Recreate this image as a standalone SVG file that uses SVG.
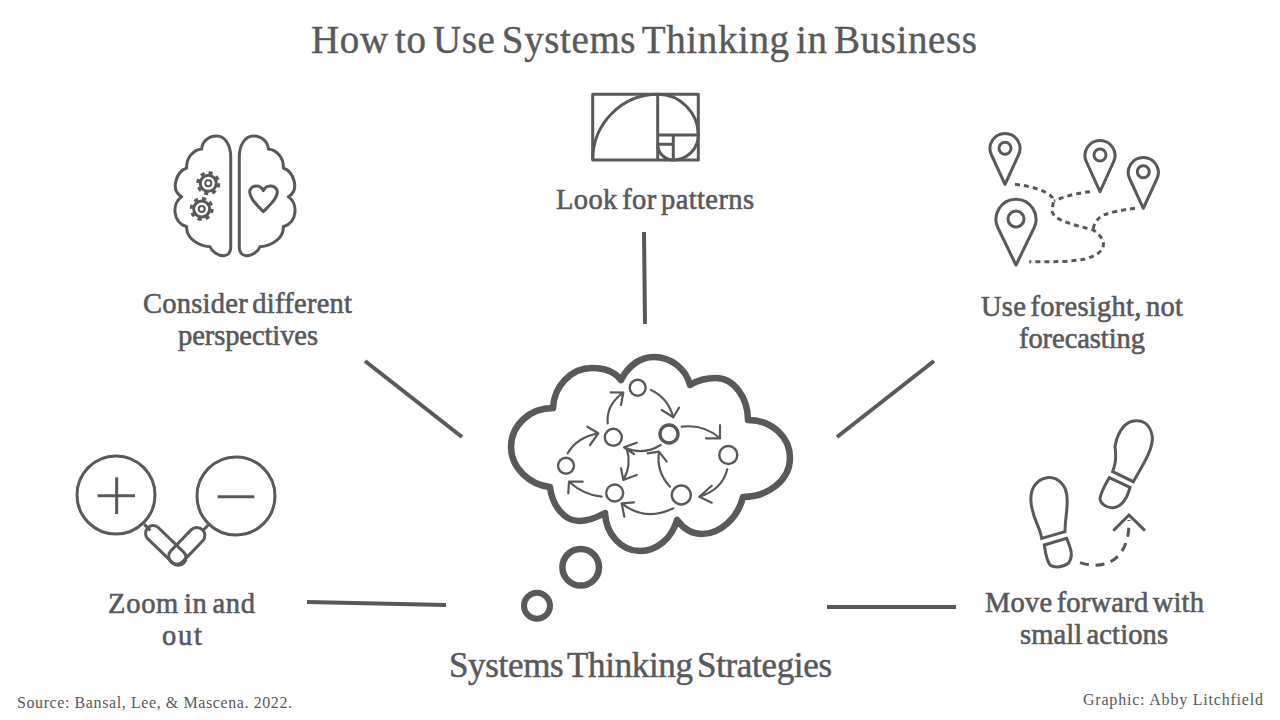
<svg xmlns="http://www.w3.org/2000/svg" width="1280" height="720" viewBox="0 0 1280 720">
<style>
text{font-family:"Liberation Serif","Times New Roman",serif;fill:#58595b}
.t{font-size:39px;word-spacing:-4px;stroke:#58595b;stroke-width:.4px}
.l{font-size:28.5px;word-spacing:-3px;stroke:#58595b;stroke-width:.6px}
.s{font-size:35px;word-spacing:-4px;stroke:#58595b;stroke-width:.5px}
.c{font-size:16px}
.i{fill:none;stroke:#58595b;stroke-width:3;stroke-linejoin:round}
.z{fill:none;stroke:#58595b;stroke-width:9}
.k{fill:none;stroke:#58595b;stroke-width:2.2;stroke-linecap:round;stroke-linejoin:round}
.n{fill:#fff;stroke:#58595b;stroke-width:2.4}
.d{fill:none;stroke:#58595b;stroke-width:3;stroke-dasharray:5 4}
.con{fill:none;stroke:#58595b;stroke-width:4}
</style>
<rect width="1280" height="720" fill="#fff"/>
<text id="title" class="t" x="311" y="53" textLength="666" lengthAdjust="spacing">How to Use Systems Thinking in Business</text>

<g id="connectors">
<line class="con" x1="365" y1="361" x2="462" y2="437"/>
<line class="con" x1="644" y1="232" x2="645" y2="324"/>
<line class="con" x1="934" y1="361" x2="837" y2="437"/>
<line class="con" x1="307" y1="602" x2="446" y2="605"/>
<line class="con" x1="827" y1="607" x2="956" y2="607"/>
</g>

<g id="center">
<path fill="none" stroke="#58595b" stroke-width="6.5" stroke-linejoin="round" d="M553,408 C554,386 571,368 592,368 C604,368 615,372 621,380 C628,366 640,357 654,357 C671,357 686,369 690,385 C698,380 708,378 716,378 C734,378 748,398 748,420 C772,420 790,437 790,458 C790,480 768,497 743,497 C738,518 720,534 702,534 C692,534 683,528 677,520 C672,538 657,551 640,551 C621,551 606,534 605,513 C596,518 588,521 579,521 C564,521 552,505 550,487 C530,485 511,468 511,447 C511,425 530,408 553,408 Z"/>
<circle cx="580.7" cy="567.3" r="18.3" fill="none" stroke="#58595b" stroke-width="6.5"/>
<circle cx="537" cy="605.7" r="13" fill="none" stroke="#58595b" stroke-width="6"/>
<g>
<path class="k" d="M651,390 Q668,398 673.3,417.3 M661.7,410 L673.3,417.3 L679,407.7"/>
<path class="k" d="M681.7,426.7 Q704,424 720,438.3 M706,438.3 H720 V425"/>
<path class="k" d="M727.3,469.3 Q722,490 699.3,496.7 M711.7,485.7 L699.3,496.7 L711.7,502.7"/>
<path class="k" d="M673.3,508.3 Q645,522 621.7,503.3 M634,502.3 L621.7,503.3 L624.3,516.7"/>
<path class="k" d="M601.7,496.7 Q584,495 569,481.7 M582.7,481.7 L569,481.7 L568.3,493.3"/>
<path class="k" d="M567.7,453.3 Q577,437 598.3,433.3 M587.3,426.7 L598.3,433.3 L590,445"/>
<path class="k" d="M607.7,423.3 Q606,405 623.3,392.7 M610.7,392.3 L623.3,392.7 L621,405"/>
<path class="k" d="M660.7,445 Q643,456 624,447.3 M636.7,442.7 L624,447.3 L634,454"/>
<path class="k" d="M626.7,448.3 Q632,465 623.3,480 M621,468.3 L623.3,480 L636.7,475"/>
<path class="k" d="M670,486.7 Q656,472 659,451.7 M647.7,453.3 L659,451.7 L666.7,461.7"/>
</g>
<circle class="n" cx="637.7" cy="387.7" r="8"/>
<circle class="n" cx="613.3" cy="437.3" r="8.5"/>
<circle class="n" cx="669" cy="434" r="9" style="stroke-width:3.4"/>
<circle class="n" cx="728.3" cy="455" r="9"/>
<circle class="n" cx="566" cy="465.7" r="8"/>
<circle class="n" cx="614.7" cy="493" r="8.5"/>
<circle class="n" cx="681.3" cy="495" r="9.5"/>
<text class="s" x="449" y="677" textLength="383" lengthAdjust="spacing">Systems Thinking Strategies</text>
</g>

<g id="patterns">
<g class="i">
<rect x="592.7" y="94.3" width="105.6" height="65.7"/>
<path d="M657.7,94.3 V160 M657.7,135 H698.3 M673.3,135 V160 M657.7,144.3 H673.3"/>
<path d="M592.7,160 A65,65.7 0 0 1 657.7,94.3 A40.6,40.7 0 0 1 698.3,135 A25,25 0 0 1 673.3,160 A15.6,15.7 0 0 1 657.7,144.3"/>
</g>
<text class="l" x="556" y="209" textLength="198" lengthAdjust="spacing">Look for patterns</text>
</g>

<g id="perspectives">
<g class="i">
<path d="M230.7,157 C230.7,145 225,136 216.7,136 C208,136 202,142 201.7,149 C193,150 186,158 186.7,168 C176,172 170,190 181.7,196.7 C172,203 172,222 186.7,226.7 C186,238 198,246 210,246.7 C212,252 218,255.7 224,255.7 C228,255.7 230.7,252 230.7,248 Z"/>
<path d="M230.7,157 C230.7,145 225,136 216.7,136 C208,136 202,142 201.7,149 C193,150 186,158 186.7,168 C176,172 170,190 181.7,196.7 C172,203 172,222 186.7,226.7 C186,238 198,246 210,246.7 C212,252 218,255.7 224,255.7 C228,255.7 230.7,252 230.7,248 Z" transform="matrix(-1 0 0 1 470 0)"/>
<path d="M263.3,190.7 C266,185 274,184 277,190 C279,197 270,205 263.3,211.7 C257,205 248,197 250,190 C253,184 261,185 263.3,190.7 Z"/>
<circle cx="208.3" cy="183.3" r="8"/>
<circle cx="208.3" cy="183.3" r="3" stroke-width="2"/>
<circle cx="208.3" cy="183.3" r="10.5" stroke-dasharray="4.1 4.15"/>
<circle cx="201.7" cy="209" r="8"/>
<circle cx="201.7" cy="209" r="3" stroke-width="2"/>
<circle cx="201.7" cy="209" r="10.5" stroke-dasharray="4.1 4.15"/>
</g>
<text class="l" x="143" y="313" textLength="209" lengthAdjust="spacing">Consider different</text>
<text class="l" x="178" y="345" textLength="140" lengthAdjust="spacing">perspectives</text>
</g>

<g id="foresight">
<g class="i">
<path d="M1005,184.3 L991.5,155 A15,15 0 1 1 1018.5,155 Z"/><circle cx="1005" cy="148.3" r="6"/>
<path d="M1100,191.7 L1086.5,162 A15,15 0 1 1 1113.5,162 Z"/><circle cx="1100" cy="155" r="6"/>
<path d="M1143.3,208.3 L1129.8,179 A15,15 0 1 1 1156.8,179 Z"/><circle cx="1143.3" cy="171.7" r="6"/>
<path d="M1016,265 L998,228 A20,20 0 1 1 1034,228 Z"/><circle cx="1016" cy="219" r="8"/>
</g>
<path class="d" d="M1015,184.3 C1030,186 1045,190 1051.7,196.7 C1056,203 1050,208 1052.7,213 C1056,221 1075,225 1093.3,230 C1100,235 1104,240 1103.3,245 C1103,252 1095,256 1085,259 C1070,262 1050,262 1029.3,261.7"/>
<path class="d" d="M1090,191.7 C1078,193 1065,196 1054,201"/>
<path class="d" d="M1135,208.3 C1122,210 1112,212 1103.3,215 C1097,219 1094,223 1093.3,229"/>
<text class="l" x="981" y="316" textLength="202" lengthAdjust="spacing">Use foresight, not</text>
<text class="l" x="1019" y="348" textLength="126" lengthAdjust="spacing">forecasting</text>
</g>

<g id="zoom">
<g transform="translate(65,445) scale(.3333)">
<circle class="z" cx="153" cy="150" r="117"/>
<circle class="z" cx="513" cy="153" r="117"/>
<path class="z" d="M98,152 H210 M155,97 V207 M458,155 H568 M238,238 L256,256 M430,240 L412,258"/>
<rect class="z" x="-75" y="-23" width="151" height="46" rx="23" transform="translate(302,301) rotate(44)"/>
<rect class="z" x="-67" y="-24" width="135" height="48" rx="24" transform="translate(365,303) rotate(-46)"/>
</g>
<text class="l" x="108" y="613" textLength="147" lengthAdjust="spacing">Zoom in and</text>
<text class="l" x="162" y="645" textLength="40" lengthAdjust="spacing">out</text>
</g>

<g id="forward">
<g transform="translate(1015,410) scale(.3333)">
<path class="z" d="M80,385 L150,365 C150,320 165,270 150,235 C135,205 110,200 95,203 C60,210 45,240 48,275 C50,320 75,350 80,385 Z"/>
<path class="z" d="M88,405 L155,385 C170,420 175,440 160,460 C140,475 115,472 105,465 C92,445 92,430 88,405 Z"/>
<path class="z" d="M293,185 L355,215 C380,170 415,120 412,80 C405,35 375,30 355,33 C320,40 305,80 300,110 C305,150 300,165 293,185 Z"/>
<path class="z" d="M283,203 L345,232 C335,270 320,290 295,293 C275,295 255,280 255,265 C260,240 270,225 283,203 Z"/>
<path class="z" d="M295,362 L342,315 L390,362"/>
<path class="z" stroke-dasharray="27 20" d="M195,458 C280,485 345,440 342,330"/>
</g>
<text class="l" x="985" y="612" textLength="219" lengthAdjust="spacing">Move forward with</text>
<text class="l" x="1020" y="644" textLength="148" lengthAdjust="spacing">small actions</text>
</g>

<text id="source" class="c" x="17" y="708" textLength="275" lengthAdjust="spacing">Source: Bansal, Lee, &amp; Mascena. 2022.</text>
<text id="credit" class="c" x="1083" y="705" textLength="180" lengthAdjust="spacing">Graphic: Abby Litchfield</text>
</svg>
